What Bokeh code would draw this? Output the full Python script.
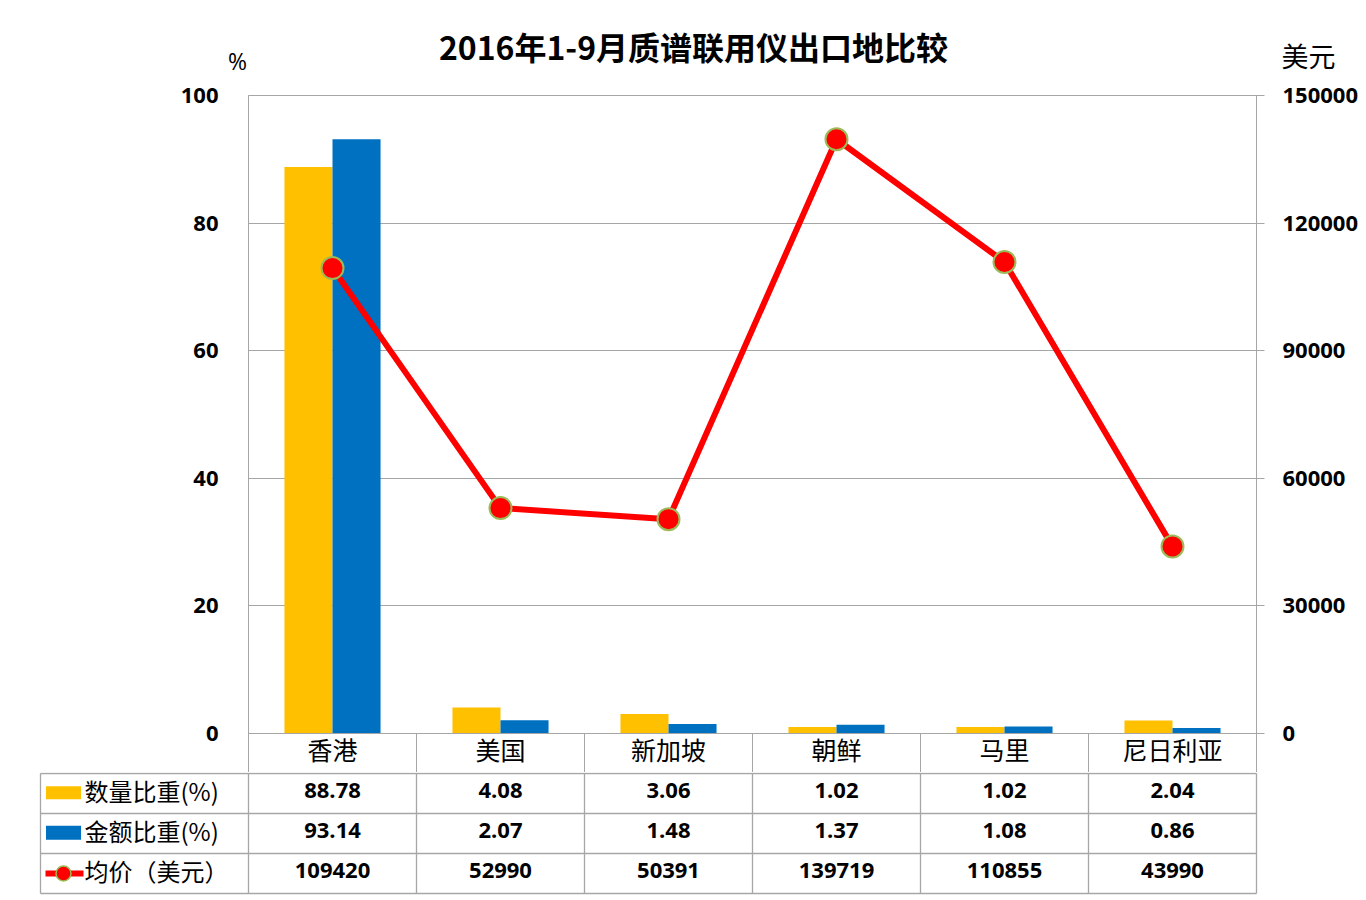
from bokeh.plotting import figure
from bokeh.models import (Range1d, LinearAxis, FixedTicker, ColumnDataSource,
                          BasicTickFormatter)
from bokeh.transform import dodge
from bokeh.embed import file_html
from bokeh.resources import INLINE
from bokeh.core.properties import value

# ---------------- data ----------------
categories = ["香港", "美国", "新加坡", "朝鲜", "马里", "尼日利亚"]
qty_share = [88.78, 4.08, 3.06, 1.02, 1.02, 2.04]
amt_share = [93.14, 2.07, 1.48, 1.37, 1.08, 0.86]
avg_price = [109420, 52990, 50391, 139719, 110855, 43990]
series_names = ["数量比重(%)", "金额比重(%)", "均价（美元）"]
left_ticks = [0, 20, 40, 60, 80, 100]
right_ticks = [0, 30000, 60000, 90000, 120000, 150000]
title_text = "2016年1-9月质谱联用仪出口地比较"
left_unit = "%"
right_unit = "美元"

# ---------------- style ----------------
YELLOW = "#FFC000"
BLUE = "#0070C0"
RED = "#FF0000"
GREEN = "#9BBB59"
GRID = "#A6A6A6"
NUM_FONT = "Open Sans"
CJK = "Noto Sans CJK SC"

W = 1366
FRAME_L, FRAME_W = 248, 1008
SLOT = FRAME_W / 6.0
HEADER_H = 78
TABLE_H = 126

n = len(categories)
centers = [i + 0.5 for i in range(n)]          # category slot centres
bounds = [float(i) for i in range(n + 1)]      # category slot boundaries
src = ColumnDataSource(dict(xc=centers, cat=categories, qty=qty_share,
                            amt=amt_share, price=avg_price))


def px2x(px):
    return (px - FRAME_L) / SLOT


# ---------------- header (title + unit labels) ----------------
h = figure(x_range=Range1d(px2x(0), px2x(W)), y_range=Range1d(HEADER_H, 0),
           width=W, height=HEADER_H, min_border=0,
           x_axis_location=None, y_axis_location=None,
           output_backend="svg", toolbar_location=None, tools="")
h.outline_line_color = None
h.xgrid.visible = False
h.ygrid.visible = False
h.text(x=[px2x(693)], y=[45], text=[title_text], text_font=value(CJK),
       text_font_size="32px", text_font_style="bold", text_color="black",
       text_align="center", text_baseline="middle")
h.text(x=[px2x(237)], y=[60], text=[left_unit], text_font=value(NUM_FONT),
       text_font_size="23px", text_color="black",
       text_align="center", text_baseline="middle")
h.text(x=[px2x(1308)], y=[55], text=[right_unit], text_font=value(CJK),
       text_font_size="27px", text_color="black",
       text_align="center", text_baseline="middle")

# ---------------- chart ----------------
p = figure(x_range=Range1d(0, n), y_range=Range1d(0, 100),
           frame_width=FRAME_W, frame_height=638,
           min_border_left=FRAME_L, min_border_right=W - FRAME_L - FRAME_W,
           min_border_top=95 - HEADER_H, min_border_bottom=39,
           x_axis_location=None, y_axis_location="left",
           output_backend="svg", toolbar_location=None, tools="")
p.extra_y_ranges = {"usd": Range1d(0, 150000)}

p.outline_line_color = GRID
p.xgrid.visible = False
p.ygrid.grid_line_color = GRID
p.ygrid.grid_line_width = 1

ya = p.yaxis[0]
ya.ticker = FixedTicker(ticks=left_ticks)
ya.axis_line_color = GRID
ya.major_tick_out = 0
ya.major_tick_in = 0
ya.minor_tick_out = 0
ya.minor_tick_in = 0
ya.major_label_standoff = 30
ya.major_label_text_font = NUM_FONT
ya.major_label_text_font_size = "22px"
ya.major_label_text_font_style = "bold"
ya.major_label_text_color = "black"

ra = LinearAxis(y_range_name="usd", ticker=FixedTicker(ticks=right_ticks),
                formatter=BasicTickFormatter(use_scientific=False))
ra.axis_line_color = GRID
ra.major_tick_out = 8
ra.major_tick_in = 0
ra.major_tick_line_color = GRID
ra.minor_tick_out = 0
ra.minor_tick_in = 0
ra.major_label_standoff = 18
ra.major_label_text_font = NUM_FONT
ra.major_label_text_font_size = "22px"
ra.major_label_text_font_style = "bold"
ra.major_label_text_color = "black"
p.add_layout(ra, "right")

# category axis: labels at slot centres, slot separators drawn as minor ticks
xa = LinearAxis(ticker=FixedTicker(ticks=centers, minor_ticks=bounds),
                major_label_overrides={c: lab for c, lab in zip(centers, categories)})
xa.axis_line_color = GRID
xa.major_tick_out = 0
xa.major_tick_in = 0
xa.minor_tick_out = 39
xa.minor_tick_in = 0
xa.minor_tick_line_color = GRID
xa.major_label_standoff = -42
xa.major_label_text_font = CJK
xa.major_label_text_font_size = "25px"
xa.major_label_text_color = "black"
p.add_layout(xa, "below")

p.vbar(x=dodge("xc", -0.143), top="qty", width=0.286,
       fill_color=YELLOW, line_color=None, source=src)
p.vbar(x=dodge("xc", 0.143), top="amt", width=0.286,
       fill_color=BLUE, line_color=None, source=src)
p.line(x="xc", y="price", y_range_name="usd", line_width=6, line_color=RED, source=src)
p.scatter(x="xc", y="price", y_range_name="usd", size=22, fill_color=RED,
          line_color=GREEN, line_width=2, source=src)

# ---------------- data table ----------------
ROW = 40.0
left_col = px2x(40)
t = figure(x_range=Range1d(px2x(0), px2x(W)),
           y_range=Range1d(start=(TABLE_H - 1) / ROW, end=-1.0 / ROW),
           width=W, height=TABLE_H, min_border=0,
           x_axis_location=None, y_axis_location=None,
           output_backend="svg", toolbar_location=None, tools="")
t.outline_line_color = None
t.xgrid.visible = False
t.ygrid.visible = False

nrows = len(series_names)
t.segment(x0=[left_col] * (nrows + 1), x1=[n] * (nrows + 1),
          y0=list(range(nrows + 1)), y1=list(range(nrows + 1)),
          line_color=GRID, line_width=1.3)
vx = [left_col] + bounds
t.segment(x0=vx, x1=vx, y0=[0] * len(vx), y1=[nrows] * len(vx),
          line_color=GRID, line_width=1.3)

row_values = [
    ["%.2f" % v for v in qty_share],
    ["%.2f" % v for v in amt_share],
    ["%d" % v for v in avg_price],
]
TXT_DY = -0.08
for r, vals in enumerate(row_values):
    t.text(x=centers, y=[r + 0.5 + TXT_DY] * n, text=vals,
           text_font=value(NUM_FONT), text_font_size="22px", text_font_style="bold",
           text_align="center", text_baseline="middle", text_color="black")

key_x = px2x(63)
t.rect(x=[key_x], y=[0.5 - 0.02], width=35, height=13, width_units="screen",
       height_units="screen", fill_color=YELLOW, line_color=None)
t.rect(x=[key_x], y=[1.5 - 0.02], width=35, height=14, width_units="screen",
       height_units="screen", fill_color=BLUE, line_color=None)
t.segment(x0=[px2x(45)], x1=[px2x(83)], y0=[2.5], y1=[2.5], line_color=RED, line_width=6)
t.scatter(x=[key_x], y=[2.5], size=15, fill_color=RED, line_color=GREEN, line_width=1.5)
t.text(x=[px2x(84)] * nrows, y=[r + 0.5 + TXT_DY for r in range(nrows)], text=series_names,
       text_font=value(CJK), text_font_size="24px",
       text_align="left", text_baseline="middle", text_color="black")

open("out.html", "w").write(file_html([h, p, t], INLINE))
